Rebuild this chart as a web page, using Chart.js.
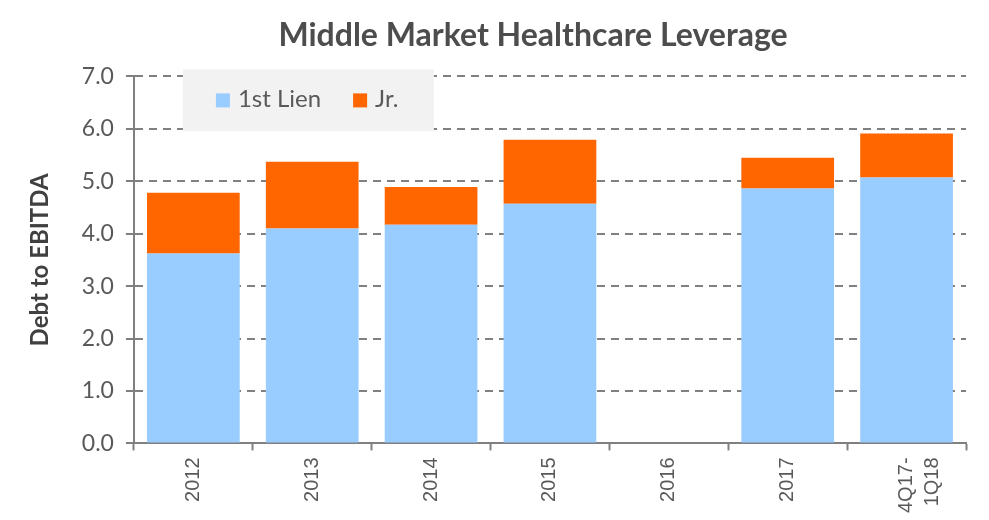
<!DOCTYPE html>
<html>
<head>
<meta charset="utf-8">
<script src="https://cdn.jsdelivr.net/npm/chart.js@4/dist/chart.umd.min.js"></script>
<style>
  html, body { margin: 0; padding: 0; background: #fff; }
  #wrap { width: 989px; height: 520px; }
</style>
</head>
<body>
<div id="wrap"><canvas id="myChart" width="989" height="520"></canvas></div>
<script>
const categories = ["2012", "2013", "2014", "2015", "2016", "2017", ["4Q17-", "1Q18"]];
const firstLien = [3.62, 4.10, 4.17, 4.57, null, 4.86, 5.07];
const junior = [1.16, 1.27, 0.72, 1.22, null, 0.59, 0.84];
const yTicks = [0, 1, 2, 3, 4, 5, 6, 7];

// grey legend panel drawn inside the plot, over the grid lines
const insideLegend = {
  id: "insideLegend",
  afterLayout(chart) {
    // title is centred a little right of the canvas middle
    chart.titleBlock.left = 100;
  },
  beforeDatasetsDraw(chart) {
    const ctx = chart.ctx;
    const area = chart.chartArea;
    const x0 = area.left + 49, y0 = area.top - 7;
    ctx.save();
    ctx.fillStyle = "#F2F2F2";
    ctx.fillRect(x0, y0, 251, 62);
    ctx.font = "24px Lato";
    ctx.textBaseline = "alphabetic";
    let x = x0 + 33;
    chart.data.datasets.forEach((ds) => {
      ctx.fillStyle = ds.backgroundColor;
      ctx.fillRect(x, y0 + 24, 14, 14);
      ctx.fillStyle = "#595959";
      ctx.fillText(ds.label, x + 22, y0 + 38);
      x += 22 + ctx.measureText(ds.label).width + 32;
    });
    ctx.restore();
  }
};

const ctx = document.getElementById("myChart").getContext("2d");

const myChart = new Chart(ctx, {
  type: "bar",
  data: {
    labels: categories,
    datasets: [
      {
        label: "1st Lien",
        data: firstLien,
        backgroundColor: "#99CCFF",
      },
      {
        label: "Jr.",
        data: junior,
        backgroundColor: "#FF6600",
      },
    ],
  },
  options: {
    responsive: false,
    animation: false,
    layout: { padding: { top: 0, right: 23, bottom: 0, left: 26 } },
    datasets: { bar: { categoryPercentage: 1, barPercentage: 0.78 } },
    plugins: {
      legend: { display: false },
      tooltip: { enabled: false },
      title: {
        display: true,
        text: "Middle Market Healthcare Leverage",
        color: "#4D4D4D",
        font: { family: "Lato", size: 32, weight: "bold" },
        padding: { top: 16, bottom: 22 },
      },
    },
    scales: {
      x: {
        stacked: true,
        grid: { display: true, drawOnChartArea: false, offset: true, tickLength: 7, tickColor: "#808080", tickWidth: 2 },
        border: { color: "#808080", width: 2 },
        ticks: {
          color: "#595959",
          font: { family: "Liberation Sans", size: 20, lineHeight: 1.3 },
          maxRotation: 90,
          minRotation: 90,
          padding: 7,
        },
      },
      y: {
        stacked: true,
        min: 0,
        max: 7,
        afterBuildTicks: (axis) => { axis.ticks = yTicks.map((v) => ({ value: v })); },
        grid: { color: "#808080", lineWidth: 2, tickLength: 8, tickColor: "#808080", tickWidth: 2, tickBorderDash: [] },
        border: { color: "#808080", width: 2, dash: [8, 6] },
        ticks: {
          color: "#595959",
          font: { family: "Lato", size: 23 },
          padding: 12,
          callback: (v) => Number(v).toFixed(1),
        },
        title: {
          display: true,
          text: "Debt to EBITDA",
          color: "#404040",
          font: { family: "Lato", size: 24, weight: "bold" },
          padding: { top: 0, bottom: 15 },
        },
      },
    },
  },
  plugins: [insideLegend],
});
</script>
</body>
</html>
